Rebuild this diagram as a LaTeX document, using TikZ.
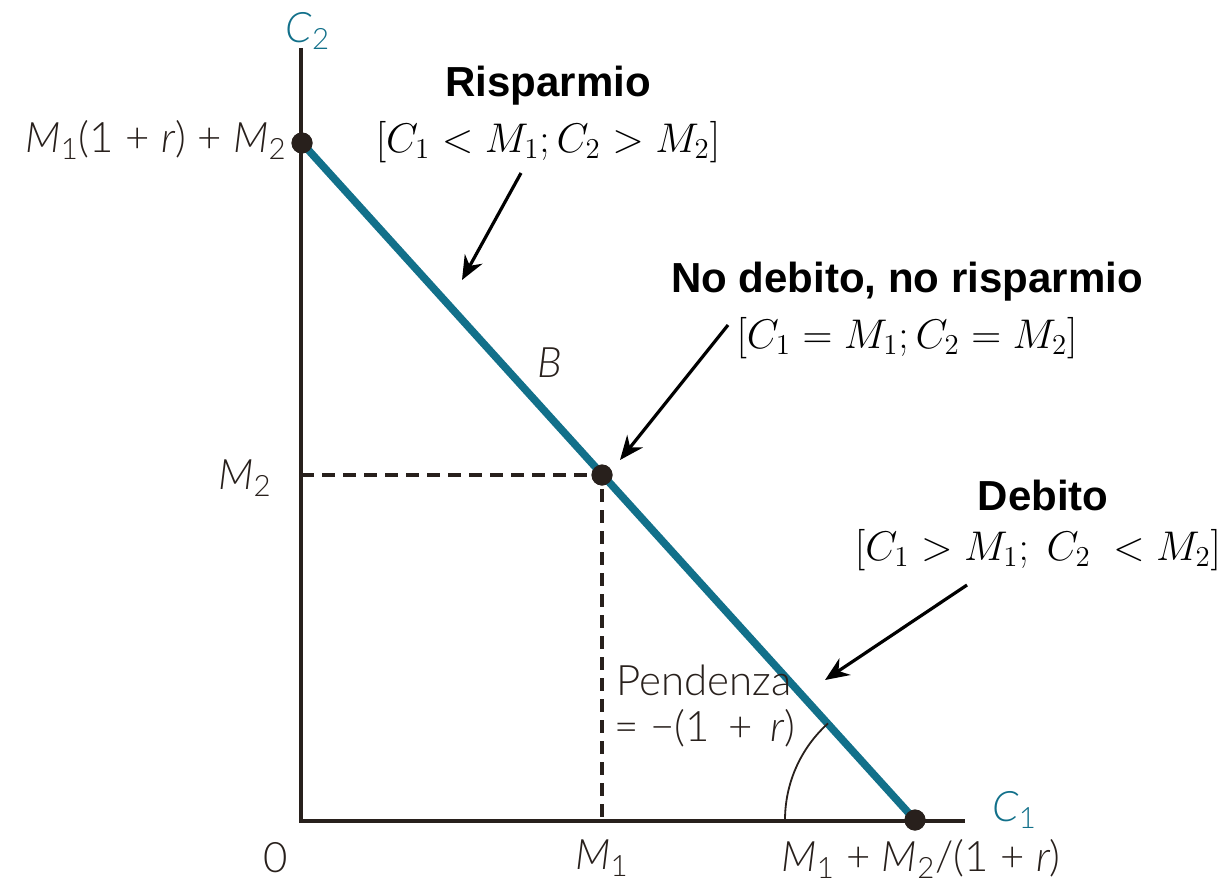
\documentclass[tikz,border=0pt]{standalone}
\usepackage{fontspec}
\setmainfont{Lato Light}[BoldFont=Lato, ItalicFont=Lato Light Italic]
\newfontfamily\boldsans{Liberation Sans}
\usetikzlibrary{arrows.meta}
\definecolor{teal}{RGB}{18,112,138}
\definecolor{labc}{RGB}{40,32,28}
\tikzset{
  axis/.style={line width=1.8pt, draw=labc},
  budget/.style={line width=3.8pt, draw=teal},
  guide/.style={line width=1.8pt, draw=labc, dash pattern=on 6.5pt off 4pt},
  dot/.style={circle, fill=labc, inner sep=0pt, minimum size=10.5pt},
  callout/.style={line width=1.6pt, -{Stealth[length=12pt,width=10pt]}},
  lab/.style={text=labc, font=\fontsize{21}{24}\selectfont, inner sep=0pt},
  head/.style={font=\boldsans\bfseries\fontsize{21}{24}\selectfont, inner sep=0pt},
  cond/.style={font=\fontsize{20}{24}\selectfont, inner sep=0pt},
}
\begin{document}
\begin{tikzpicture}[x=0.5pt,y=-0.5pt]
\useasboundingbox (0,0) rectangle (1225,883);
% axes
\coordinate (O) at (301,821);
\coordinate (ytop) at (301,48);
\coordinate (xend) at (965,821);
\draw[axis] (ytop) -- (O) -- (xend);
% points
\node[dot] (P1) at (302,143) {};
\node[dot] (P2) at (602,475) {};
\node[dot] (P3) at (915,820) {};
\coordinate (yM2) at (301,475);
\coordinate (xM1) at (602,821);
% guides
\draw[guide] (yM2) -- (P2.center) -- (xM1);
% budget line
\draw[budget] (P1.center) -- (P3.center);
\node[dot] at (P1) {};
\node[dot] at (P2) {};
\node[dot] at (P3) {};
% angle arc
\draw[line width=0.9pt, draw=labc] (P3.center) ++(180:130) arc[start angle=180, end angle=228, radius=130];
% axis labels
\node[lab, text=teal, anchor=south] (c2) at (308,50) {\itshape C\textsubscript{\upshape 2}};
\node[lab, text=teal, anchor=west] (c1) at (992,810) {\itshape C\textsubscript{\upshape 1}};
\node[lab, anchor=east] (l1) at (287,140) {\itshape M\textsubscript{\upshape 1}\upshape (1 + \itshape r\upshape ) + \itshape M\textsubscript{\upshape 2}};
\node[lab, anchor=east] (l2) at (272,478) {\itshape M\textsubscript{\upshape 2}};
\node[lab] (l0) at (276,858) {0};
\node[lab] (l3) at (602,858) {\itshape M\textsubscript{\upshape 1}};
\node[lab] (l4) at (921,859) {\itshape M\textsubscript{\upshape 1}\upshape\ + \itshape M\textsubscript{\upshape 2}\upshape /(1 + \itshape r\upshape )};
\node[lab] (lB) at (550,363) {\itshape B};
\node[lab, anchor=west] (pend) at (616,680) {Pendenza};
\node[lab, anchor=west] (pend2) at (614,728) {= \textminus(1 \,+\, \itshape r\upshape )};
% headings
\node[head] (h1) at (548,86) {Risparmio};
\node[cond] (k1) at (548,142) {$[C_1 < M_1; C_2 > M_2]$};
\node[head] (h2) at (907,282) {No debito, no risparmio};
\node[cond] (k2) at (907,338) {$[C_1 = M_1; C_2 = M_2]$};
\node[head] (h3) at (1043,495) {Debito};
\node[cond] (k3) at (1038,550) {$[C_1 > M_1;\ C_2\ < M_2]$};
% callouts
\coordinate (a1) at (521,173);
\coordinate (b1) at (462,280);
\coordinate (a2) at (728,325);
\coordinate (b2) at (620,460);
\coordinate (a3) at (967,585);
\coordinate (b3) at (825,680);
\draw[callout] (a1) -- (b1);
\draw[callout] (a2) -- (b2);
\draw[callout] (a3) -- (b3);
\end{tikzpicture}
\end{document}
